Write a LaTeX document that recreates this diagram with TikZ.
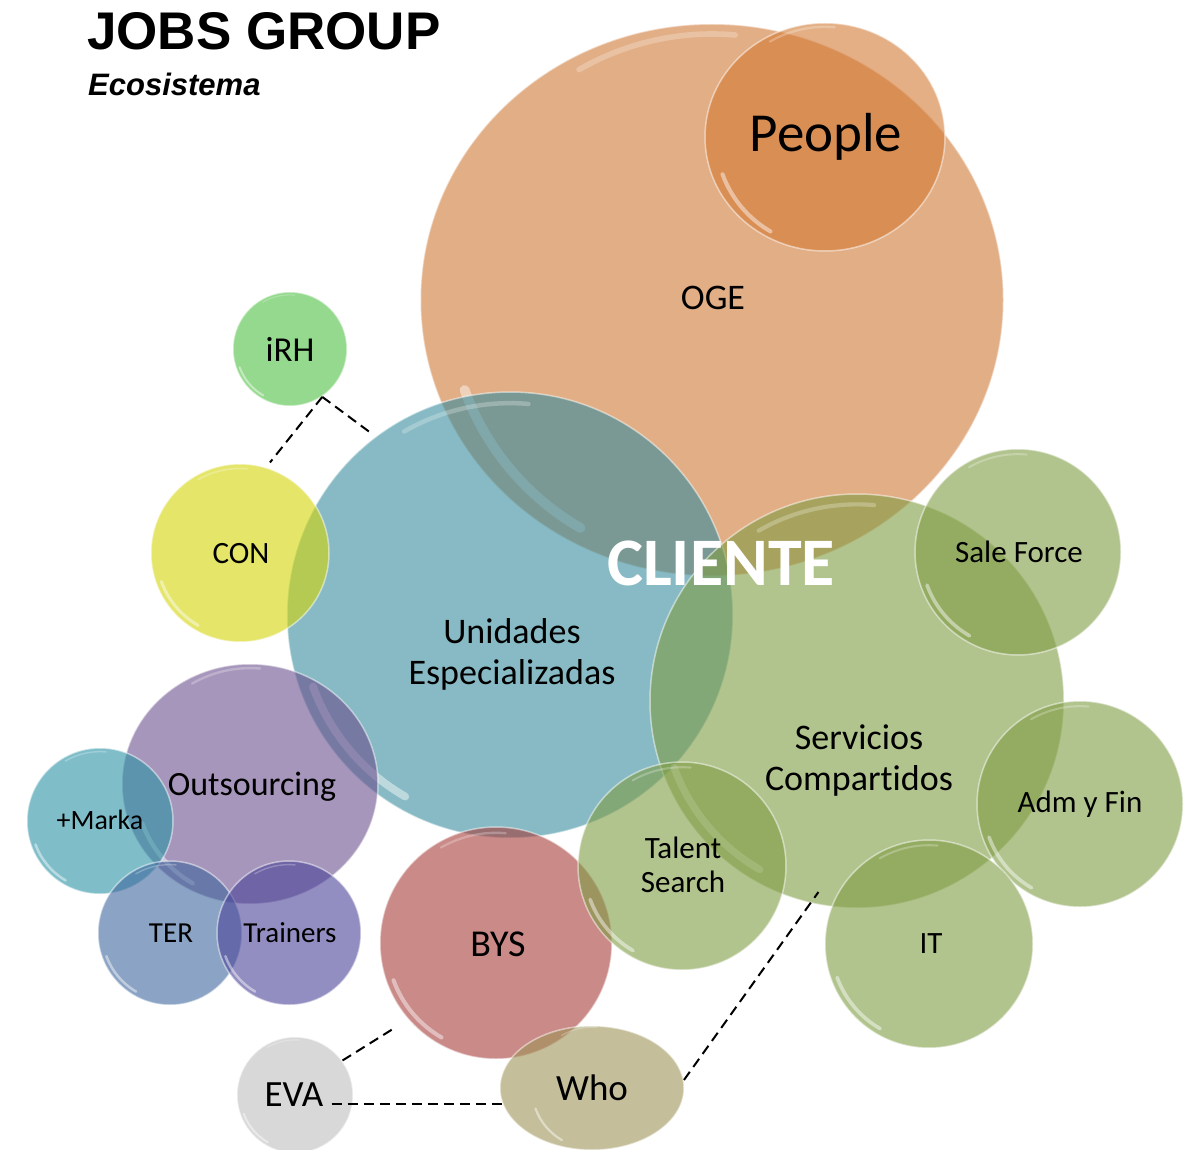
\documentclass[tikz,border=0pt]{standalone}
\usepackage{fontspec}
\setmainfont[Ligatures=CommonOff]{Carlito}
\newfontfamily\titlefont{Liberation Sans}
\usetikzlibrary{shapes.geometric,calc}
\definecolor{cOGE}{RGB}{226,174,134}
\definecolor{cPeople}{RGB}{211,122,52}
\definecolor{cUni}{RGB}{55,140,158}
\definecolor{cGreen}{RGB}{128,157,68}
\definecolor{cCon}{RGB}{213,213,7}
\definecolor{cIrh}{RGB}{77,192,65}
\definecolor{cOut}{RGB}{108,80,142}
\definecolor{cMarka}{RGB}{43,148,165}
\definecolor{cTer}{RGB}{63,102,157}
\definecolor{cTrain}{RGB}{75,68,153}
\definecolor{cBys}{RGB}{165,60,58}
\definecolor{cWho}{RGB}{158,148,87}
\definecolor{cEva}{RGB}{190,190,190}
\newcommand\gloss[2]{%
  \draw[white, opacity=0.45, line cap=round, line width={0.035*#2pt}]
    ($(#1.center)+(200:{0.94*#2pt})$) arc[start angle=200, end angle=240, radius={0.94*#2pt}];
  \draw[white, opacity=0.25, line cap=round, line width={0.02*#2pt}]
    ($(#1.center)+(120:{0.95*#2pt})$) arc[start angle=120, end angle=85, radius={0.95*#2pt}];
}
\begin{document}
\begin{tikzpicture}[x=1pt,y=-1pt,
  bubbase/.style={inner sep=0pt, fill opacity=0.6, draw=white, draw opacity=0.5, line width=1.5pt},
  bub/.style={circle, bubbase},
  lab/.style={inner sep=0pt, anchor=base, text=black},
  lab2/.style={inner sep=0pt, align=center, text=black},
  dashline/.style={draw=black, line width=2pt, dash pattern=on 10pt off 6pt}]
\useasboundingbox (0,0) rectangle (1186,1150);
\fill[white] (0,0) rectangle (1186,1150);

% bubbles, bottom to top
\node[ellipse, bubbase, fill=cOGE, fill opacity=1, minimum width=583pt, minimum height=552pt] (oge) at (712,300) {};
\gloss{oge}{280}
\node[ellipse, bubbase, fill=cPeople, minimum width=240pt, minimum height=228pt] (people) at (825,137) {};
\gloss{people}{116}
\node[bub, fill=cUni, minimum size=446pt] (uni) at (510,615) {};
\gloss{uni}{223}
\node[bub, fill=cCon, minimum size=178pt] (con) at (240,553) {};
\gloss{con}{89}
\node[bub, fill=cIrh, minimum size=114pt] (irh) at (290,349) {};
\gloss{irh}{57}
\node[ellipse, bubbase, fill=cOut, minimum width=256pt, minimum height=240pt] (out) at (250,784) {};
\gloss{out}{122}
\node[bub, fill=cMarka, minimum size=146pt] (marka) at (100,821) {};
\gloss{marka}{73}
\node[bub, fill=cTer, minimum size=144pt] (ter) at (170,933) {};
\gloss{ter}{72}
\node[bub, fill=cTrain, minimum size=144pt] (trainers) at (289,933) {};
\gloss{trainers}{72}
\node[bub, fill=cGreen, minimum size=414pt] (svc) at (857,701) {};
\gloss{svc}{207}
\node[bub, fill=cGreen, minimum size=206pt] (sale) at (1018,552) {};
\gloss{sale}{103}
\node[bub, fill=cGreen, minimum size=206pt] (adm) at (1080,804) {};
\gloss{adm}{103}
\node[bub, fill=cGreen, minimum size=208pt] (it) at (929,944) {};
\gloss{it}{104}
\node[bub, fill=cBys, minimum size=232pt] (bys) at (496,943) {};
\gloss{bys}{116}
\node[bub, fill=cGreen, minimum size=208pt] (talent) at (682,866) {};
\gloss{talent}{104}
\node[ellipse, bubbase, fill=cWho, minimum width=184pt, minimum height=124pt] (who) at (592,1088) {};
\gloss{who}{64}
\node[bub, fill=cEva, minimum size=116pt] (eva) at (295,1095) {};
\gloss{eva}{58}

% labels
\node[lab, font=\fontsize{55}{60}\selectfont] (people-t) at (826,152) {People};
\node[lab, font=\fontsize{36}{40}\selectfont] (oge-t) at (713,309) {OGE};
\node[lab2, font=\fontsize{36}{41}\selectfont] (uni-t) at (512,654) {Unidades\\Especializadas};
\node[lab2, font=\fontsize{36}{41}\selectfont] (svc-t) at (859,761) {Servicios\\Compartidos};
\node[lab2, font=\fontsize{31}{34}\selectfont] (talent-t) at (683,865) {Talent\\Search};
\node[lab, font=\fontsize{34}{38}\selectfont] (out-t) at (252,795) {Outsourcing};
\node[lab, font=\fontsize{28}{32}\selectfont] (marka-t) at (100,829) {+Marka};
\node[lab, font=\fontsize{29}{32}\selectfont] (ter-t) at (171,942) {TER};
\node[lab, font=\fontsize{29}{32}\selectfont] (trainers-t) at (290,942) {Trainers};
\node[lab, font=\fontsize{31}{34}\selectfont] (sale-t) at (1019,562) {Sale Force};
\node[lab, font=\fontsize{31}{34}\selectfont] (adm-t) at (1080,812) {Adm y Fin};
\node[lab, font=\fontsize{31}{34}\selectfont] (it-t) at (931,953) {IT};
\node[lab, font=\fontsize{31}{34}\selectfont] (con-t) at (241,563) {CON};
\node[lab, font=\fontsize{35}{38}\selectfont] (irh-t) at (290,361) {iRH};
\node[lab, font=\fontsize{38}{42}\selectfont] (bys-t) at (498,956) {BYS};
\node[lab, font=\fontsize{37}{40}\selectfont] (who-t) at (592,1100) {Who};
\node[lab, font=\fontsize{37}{40}\selectfont] (eva-t) at (294,1106) {EVA};
\node[lab, text=white, font=\fontsize{68}{72}\selectfont\bfseries] (cliente) at (721,585) {CLIENTE};

% title
\node[inner sep=0pt, anchor=base west, font=\titlefont\bfseries\fontsize{53}{56}\selectfont] (title) at (87,50) {JOBS GROUP};
\node[inner sep=0pt, anchor=base west, font=\titlefont\bfseries\itshape\fontsize{31}{34}\selectfont] (subtitle) at (88,96) {Ecosistema};

% dashed connectors
\draw[dashline, shorten >=6pt] (irh.-56) -- (con.73);
\draw[dashline, shorten >=8pt] (irh.-56) -- (uni.127);
\draw[dashline, shorten >=15pt] (eva.36) -- (bys.-139);
\draw[dashline, shorten <=8pt] (eva-t.east |- who.190) -- (who.190);
\draw[dashline, shorten >=-14pt] (who.5) -- (svc.-103);
\end{tikzpicture}
\end{document}
